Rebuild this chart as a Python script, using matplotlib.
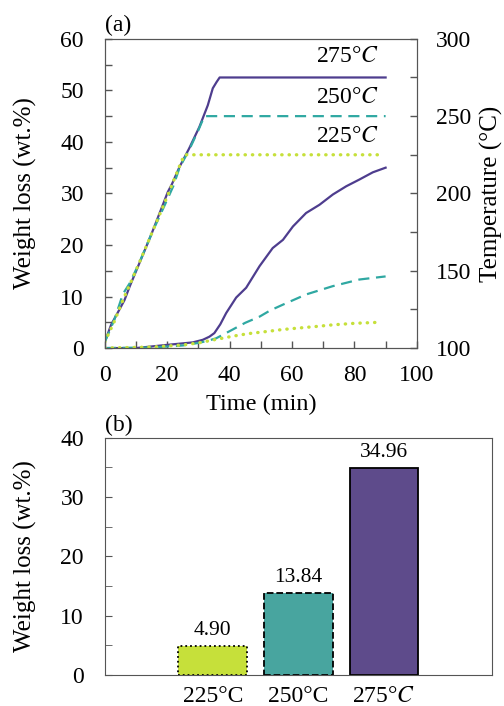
import numpy as np
import matplotlib
matplotlib.use('Agg')
from matplotlib import pyplot as plt

plt.rcParams['font.family'] = ['Liberation Serif', 'DejaVu Serif']
plt.rcParams['mathtext.fontset'] = 'stix'
plt.rcParams['font.size'] = 17

# colours for the three runs
c275 = '#4e3d8e'
c250 = '#2fa8a2'
c225 = '#c6e03a'

# (a) temperature programmes, time (min) / temperature (C)
t_temp_275 = [0, 2, 4.7, 6.3, 8, 11.1, 15, 20.2, 21.5, 23.9, 27, 30.3, 33, 34.6, 35.8, 36.8, 38, 90]
T_275 = [104, 115, 125, 131, 140, 155, 174, 201, 206, 217, 229, 243, 257, 268, 272, 275, 275, 275]
t_temp_250 = [0, 3, 5.8, 8, 11, 15, 20, 22, 24, 27, 30, 31.9, 90]
T_250 = [104, 118, 135, 142, 155, 174, 196, 205, 217, 228, 241, 250, 250]
t_temp_225 = [0, 3, 6, 8, 11, 15, 20, 22, 24, 25.5, 88]
T_225 = [104, 117, 132, 141, 155, 174, 198, 208, 218, 225, 225]

# (a) weight loss, time (min) / wt.%
t_wl_275 = [0, 10, 19.7, 28.2, 31.4, 33.5, 35.1, 37, 38.9, 42.1, 45.3, 49.6, 53.8, 57.1, 60.3, 64.5, 68.8, 73.1, 77.4, 81.6, 85.9, 90]
wl_275 = [0, 0, 0.6, 1.1, 1.6, 2.2, 2.9, 4.6, 6.8, 9.8, 11.7, 15.9, 19.4, 21.0, 23.6, 26.2, 27.8, 29.8, 31.4, 32.7, 34.1, 35.0]
t_wl_250 = [0, 15, 25, 30, 33, 35.7, 41, 45, 49.6, 53, 57, 64.5, 73, 81.6, 90]
wl_250 = [0, 0.1, 0.5, 1.0, 1.4, 1.9, 3.6, 4.9, 6.1, 7.3, 8.4, 10.4, 12.0, 13.3, 13.9]
t_wl_225 = [0, 15, 25, 30, 35, 41, 46, 51.7, 57, 62.4, 68, 73, 80, 88]
wl_225 = [0, 0.2, 0.6, 1.0, 1.6, 2.3, 2.8, 3.2, 3.6, 3.9, 4.2, 4.5, 4.8, 5.0]

# (b) final weight loss
bar_labels = ['225°C', '250°C', '275°$C$']
bar_values = [4.90, 13.84, 34.96]
bar_text = ['4.90', '13.84', '34.96']

fig = plt.figure(figsize=(5.04, 7.06), dpi=100)
spine_col = '#555555'
dot = (0, (0.1, 2.1))
dash = (0, (5, 3))

# ---------- (a) ----------
ax = fig.add_axes([0.208, 0.507, 0.619, 0.438])
ax2 = ax.twinx()

ax.plot(t_wl_275, wl_275, color=c275, lw=1.6, ls='-')
ax.plot(t_wl_250, wl_250, color=c250, lw=1.6, ls=dash)
ax.plot(t_wl_225, wl_225, color=c225, lw=2.4, ls=dot, dash_capstyle='round')

ax2.plot(t_temp_275, T_275, color=c275, lw=1.6, ls='-')
ax2.plot(t_temp_250, T_250, color=c250, lw=1.6, ls=dash)
ax2.plot(t_temp_225, T_225, color=c225, lw=2.4, ls=dot, dash_capstyle='round')

ax.set_xlim(0, 100)
ax.set_ylim(0, 60)
ax2.set_ylim(100, 300)
ax.set_xticks(np.arange(0, 101, 20))
ax.set_xticks(np.arange(0, 101, 10), minor=True)
ax.set_yticks(np.arange(0, 61, 10))
ax.set_yticks(np.arange(0, 61, 5), minor=True)
ax2.set_yticks(np.arange(100, 301, 50))
ax2.set_yticks(np.arange(100, 301, 25), minor=True)

for a in (ax, ax2):
    a.tick_params(which='both', direction='in', length=5, width=1, color=spine_col)
    for s in a.spines.values():
        s.set_color(spine_col)
ax.tick_params(axis='y', which='both', pad=15, right=False)
ax.tick_params(axis='x', which='both', pad=12, top=False)
ax2.tick_params(axis='y', which='both', pad=14)

ax.set_xlabel('Time (min)', labelpad=6, fontsize=17.5)
ax.set_ylabel('Weight loss (wt.%)', labelpad=17, fontsize=18)
ax2.set_ylabel('Temperature (°C)', labelpad=6, fontsize=18)

ax.text(88, 56.5, '275°$C$', ha='right', va='center', fontsize=17)
ax.text(88, 48.7, '250°$C$', ha='right', va='center', fontsize=17)
ax.text(88, 41.0, '225°$C$', ha='right', va='center', fontsize=17)
ax.text(0, 60.6, '(a)', ha='left', va='bottom', fontsize=17)

# ---------- (b) ----------
bx = fig.add_axes([0.208, 0.044, 0.768, 0.336])
x = np.arange(1, len(bar_values) + 1)
fills = [c225, '#48a59f', '#5e4b8b']
styles = [':', '--', '-']
for xi, v, fc, st in zip(x, bar_values, fills, styles):
    bx.bar(xi, v, width=0.8, color=fc, edgecolor='black', linewidth=1.3, linestyle=st)
for xi, v, s in zip(x, bar_values, bar_text):
    bx.annotate(s, (xi, v), xytext=(0, 4), textcoords='offset points', ha='center', va='bottom', fontsize=15.5)

bx.set_xlim(-0.26, 4.26)
bx.set_ylim(0, 40)
bx.set_xticks(x)
bx.set_xticklabels(bar_labels)
bx.set_yticks(np.arange(0, 41, 10))
bx.set_yticks(np.arange(0, 41, 5), minor=True)
bx.tick_params(axis='x', which='both', length=0, pad=8)
bx.tick_params(axis='y', which='both', direction='in', length=5, pad=15, color=spine_col)
for s in bx.spines.values():
    s.set_color(spine_col)
bx.set_ylabel('Weight loss (wt.%)', labelpad=17, fontsize=18)
bx.text(-0.26, 40.3, '(b)', ha='left', va='bottom', fontsize=17)

fig.savefig('out.png', dpi=100)
